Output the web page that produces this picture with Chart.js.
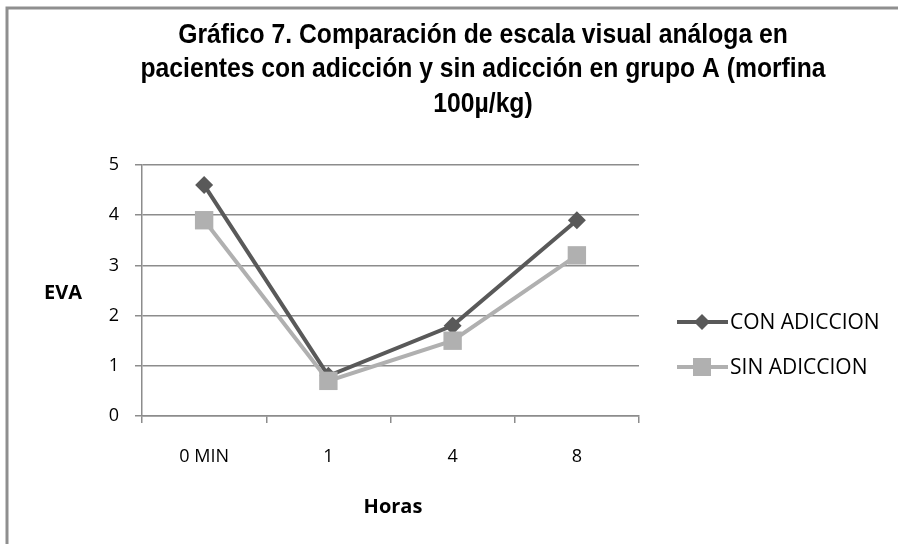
<!DOCTYPE html>
<html>
<head>
<meta charset="utf-8">
<script src="https://cdn.jsdelivr.net/npm/chart.js@4.4.1/dist/chart.umd.min.js"></script>
<style>
html,body{margin:0;padding:0;background:#fff;}
#wrap{position:relative;width:898px;height:544px;}
canvas{display:block;}
</style>
</head>
<body>
<div id="wrap"><canvas id="c" width="898" height="544"></canvas></div>
<script>
// ---- data ----
const categories = ['0 MIN', '1', '4', '8'];
const conAdiccion = [4.6, 0.8, 1.8, 3.9];
const sinAdiccion = [3.9, 0.7, 1.5, 3.2];
const seriesNames = ['CON ADICCION', 'SIN ADICCION'];
const titleLines = ['Gráfico 7. Comparación de escala visual análoga en', 'pacientes con adicción y sin adicción en grupo A (morfina', '100µ/kg)'];
const yTitle = 'EVA';
const xTitle = 'Horas';
const yMin = 0, yMax = 5, yStep = 1;

const DARK = '#595959';
const LIGHT = '#b0b0b0';
const TICK_FONT = '"Open Sans", "Noto Sans", sans-serif';

const decor = {
  id: 'decor',
  beforeDraw(chart) {
    const ctx = chart.ctx;
    ctx.save();
    ctx.fillStyle = '#fff';
    ctx.fillRect(0, 0, chart.width, chart.height);
    ctx.strokeStyle = '#8f8f8f';
    ctx.lineWidth = 3;
    ctx.beginPath();
    ctx.moveTo(7, chart.height + 5);
    ctx.lineTo(7, 8);
    ctx.lineTo(chart.width + 5, 8);
    ctx.stroke();
    ctx.restore();
  },
  afterDraw(chart) {
    const ctx = chart.ctx;
    const area = chart.chartArea;
    ctx.save();
    // title (condensed look)
    ctx.fillStyle = '#000';
    ctx.textAlign = 'center';
    ctx.textBaseline = 'alphabetic';
    ctx.font = 'bold 27px "Liberation Sans Narrow", "Arial Narrow", "Liberation Sans", sans-serif';
    const tBase = [43, 77, 112];
    titleLines.forEach((t, i) => {
      ctx.save();
      ctx.translate(483, tBase[i]);
      ctx.scale(0.915, 1);
      ctx.fillText(t, 0, 0);
      ctx.restore();
    });
    // axis titles
    ctx.font = 'bold 20px ' + TICK_FONT;
    ctx.textBaseline = 'middle';
    ctx.fillText(yTitle, 63, 293);
    ctx.fillText(xTitle, 393, 507);
    // legend
    const items = [
      {name: seriesNames[0], color: DARK, style: 'diamond', y: 322},
      {name: seriesNames[1], color: LIGHT, style: 'square', y: 367}
    ];
    items.forEach(it => {
      ctx.strokeStyle = it.color;
      ctx.lineWidth = 4;
      ctx.beginPath();
      ctx.moveTo(677, it.y);
      ctx.lineTo(728, it.y);
      ctx.stroke();
      ctx.fillStyle = it.color;
      ctx.beginPath();
      if (it.style === 'diamond') {
        const r = 8;
        ctx.moveTo(702, it.y - r);
        ctx.lineTo(702 + r, it.y);
        ctx.lineTo(702, it.y + r);
        ctx.lineTo(702 - r, it.y);
        ctx.closePath();
      } else {
        ctx.rect(702 - 9, it.y - 9, 18, 18);
      }
      ctx.fill();
      ctx.fillStyle = '#000';
      ctx.textAlign = 'left';
      ctx.textBaseline = 'middle';
      ctx.font = '21px ' + TICK_FONT;
      ctx.fillText(it.name, 730, it.y + 1);
    });
    ctx.restore();
  }
};

new Chart(document.getElementById('c'), {
  type: 'line',
  data: {
    labels: categories,
    datasets: [
      {
        label: seriesNames[0], data: conAdiccion, order: 1,
        borderColor: DARK, backgroundColor: DARK, borderWidth: 4,
        pointStyle: 'rectRot', pointRadius: 9, pointHoverRadius: 9,
        pointBorderWidth: 0, tension: 0
      },
      {
        label: seriesNames[1], data: sinAdiccion, order: 0,
        borderColor: LIGHT, backgroundColor: LIGHT, borderWidth: 4,
        pointStyle: 'rect', pointRadius: 13, pointHoverRadius: 13,
        pointBorderWidth: 0, tension: 0
      }
    ]
  },
  options: {
    responsive: false,
    animation: false,
    events: [],
    layout: {padding: {top: 165, right: 259, left: 0, bottom: 0}},
    plugins: {legend: {display: false}, title: {display: false}, tooltip: {enabled: false}},
    scales: {
      x: {
        type: 'category', offset: true,
        grid: {offset: true, drawOnChartArea: false, drawTicks: true, tickLength: 7, color: '#8c8c8c', lineWidth: 1.5},
        border: {display: true, color: '#8c8c8c', width: 1.5},
        ticks: {color: '#000', font: {family: TICK_FONT, size: 18}, padding: 23, maxRotation: 0, autoSkip: false},
        afterFit(s) { s.height = 128; }
      },
      y: {
        min: yMin, max: yMax,
        grid: {drawOnChartArea: true, drawTicks: true, tickLength: 7, color: '#8c8c8c', lineWidth: 1.5},
        border: {display: true, color: '#8c8c8c', width: 1.5},
        ticks: {stepSize: yStep, color: '#000', font: {family: TICK_FONT, size: 18}, padding: 16},
        afterFit(s) { s.width = 142; }
      }
    }
  },
  plugins: [decor]
});
</script>
</body>
</html>
